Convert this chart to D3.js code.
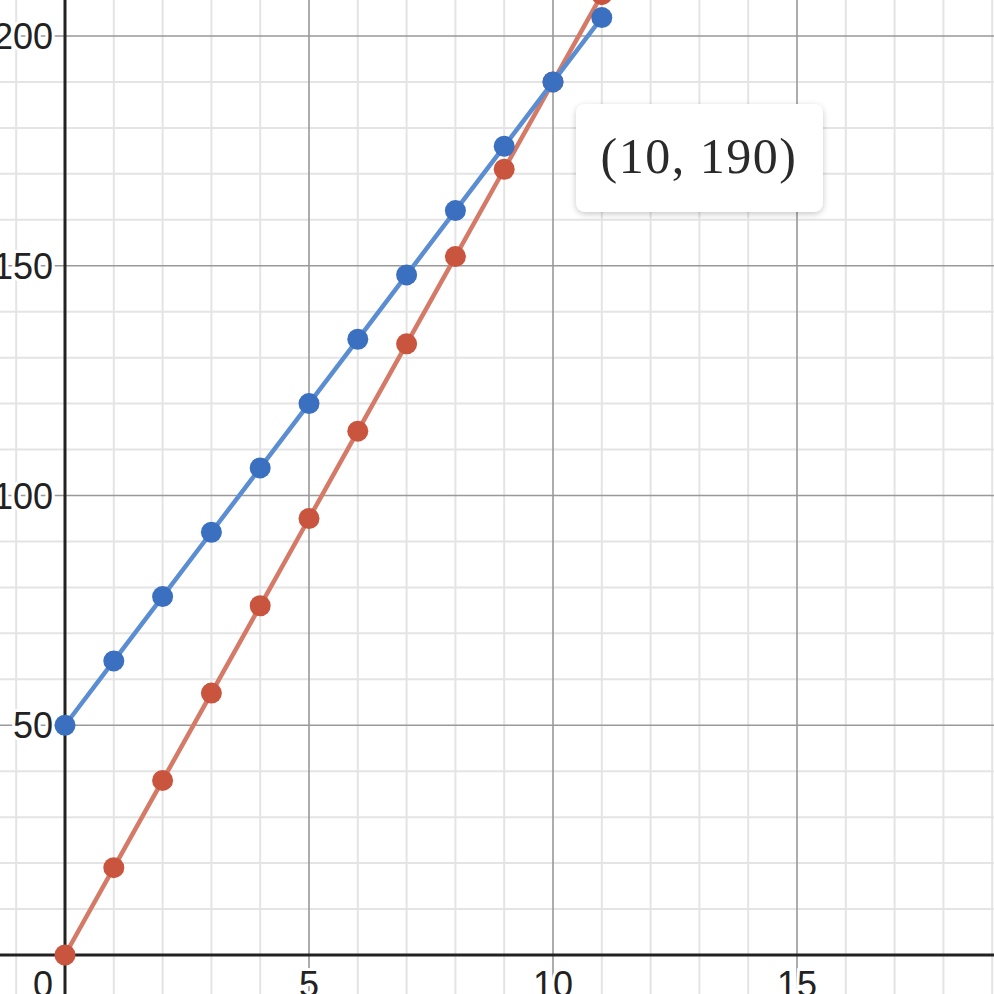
<!DOCTYPE html>
<html><head><meta charset="utf-8">
<script src="https://cdn.jsdelivr.net/npm/d3@7/dist/d3.min.js"></script>
<style>html,body{margin:0;padding:0;background:#fff;overflow:hidden}</style>
</head><body>
<svg id="c" width="994" height="994"></svg>
<script>
const xValues = [0,1,2,3,4,5,6,7,8,9,10,11];
const blueValues = [50,64,78,92,106,120,134,148,162,176,190,204];
const redValues = [0,19,38,57,76,95,114,133,152,171,190,209];
const xTicks = [0,5,10,15];
const yTicks = [50,100,150,200];
const tooltipLabel = "(10, 190)";
const tooltipPoint = [10,190];

const W = 994, H = 994;
const svg = d3.select("#c");
const x = d3.scaleLinear().domain([0,15]).range([65,797]);
const y = d3.scaleLinear().domain([0,200]).range([955,36]);
const xmin = x.invert(0), xmax = x.invert(W), ymax = y.invert(0), ymin = y.invert(H);

// minor grid
const g = svg.append("g");
for (let v = Math.ceil(xmin); v <= xmax; v++) {
  if (v % 5 === 0) continue;
  g.append("line").attr("x1", x(v)).attr("x2", x(v)).attr("y1", 0).attr("y2", H)
    .attr("stroke", "#e4e4e4").attr("stroke-width", 2);
}
for (let v = Math.ceil(ymin/10)*10; v <= ymax; v += 10) {
  if (v % 50 === 0) continue;
  g.append("line").attr("y1", y(v)).attr("y2", y(v)).attr("x1", 0).attr("x2", W)
    .attr("stroke", "#e4e4e4").attr("stroke-width", 2);
}
// major grid
for (let v = Math.ceil(xmin/5)*5; v <= xmax; v += 5) {
  if (v === 0) continue;
  g.append("line").attr("x1", x(v)).attr("x2", x(v)).attr("y1", 0).attr("y2", H)
    .attr("stroke", "#999").attr("stroke-width", 1.6);
}
for (let v = Math.ceil(ymin/50)*50; v <= ymax; v += 50) {
  if (v === 0) continue;
  g.append("line").attr("y1", y(v)).attr("y2", y(v)).attr("x1", 0).attr("x2", W)
    .attr("stroke", "#999").attr("stroke-width", 1.6);
}
// axes
g.append("line").attr("x1", x(0)).attr("x2", x(0)).attr("y1", 0).attr("y2", H)
  .attr("stroke", "#222").attr("stroke-width", 3);
g.append("line").attr("y1", y(0)).attr("y2", y(0)).attr("x1", 0).attr("x2", W)
  .attr("stroke", "#222").attr("stroke-width", 3);

// tick labels
const lbl = svg.append("g").attr("font-family", "Liberation Sans, Arial, sans-serif")
  .attr("font-size", 36).attr("fill", "#222");
xTicks.forEach(v => {
  lbl.append("text").attr("x", v === 0 ? x(v) - 22 : x(v)).attr("y", y(0) + 42)
    .attr("text-anchor", "middle")
    .attr("stroke", "#fff").attr("stroke-width", 6).attr("paint-order", "stroke")
    .text(v);
});
yTicks.forEach(v => {
  lbl.append("text").attr("x", x(0) - 12).attr("y", y(v) + 13)
    .attr("text-anchor", "end")
    .attr("stroke", "#fff").attr("stroke-width", 6).attr("paint-order", "stroke")
    .text(v);
});

// series
const line = d3.line().x((d,i) => x(xValues[i])).y(d => y(d));
function series(vals, lineColor, ptColor) {
  svg.append("path").datum(vals).attr("d", line).attr("fill", "none")
    .attr("stroke", lineColor).attr("stroke-width", 4.5).attr("stroke-linejoin", "round");
  svg.append("g").selectAll("circle").data(vals).join("circle")
    .attr("cx", (d,i) => x(xValues[i])).attr("cy", d => y(d)).attr("r", 10.5)
    .attr("fill", ptColor);
}
series(redValues, "#d47a67", "#c9553e");
series(blueValues, "#5b8dd2", "#3a70bf");

// tooltip
const defs = svg.append("defs");
const f = defs.append("filter").attr("id", "sh").attr("x", "-20%").attr("y", "-20%").attr("width", "140%").attr("height", "150%");
f.append("feDropShadow").attr("dx", 0).attr("dy", 2).attr("stdDeviation", 3).attr("flood-color", "#000").attr("flood-opacity", 0.22);
const tx = x(tooltipPoint[0]) + 23, ty = y(tooltipPoint[1]) + 22;
svg.append("rect").attr("x", tx).attr("y", ty).attr("width", 247).attr("height", 108)
  .attr("rx", 9).attr("fill", "#fff").attr("filter", "url(#sh)");
svg.append("text").attr("x", tx + 123).attr("y", ty + 69).attr("text-anchor", "middle")
  .attr("font-family", "Liberation Serif, serif")
  .attr("font-size", 50).attr("letter-spacing", 1.5).attr("fill", "#2a2a2a").text(tooltipLabel);
</script>
</body></html>
